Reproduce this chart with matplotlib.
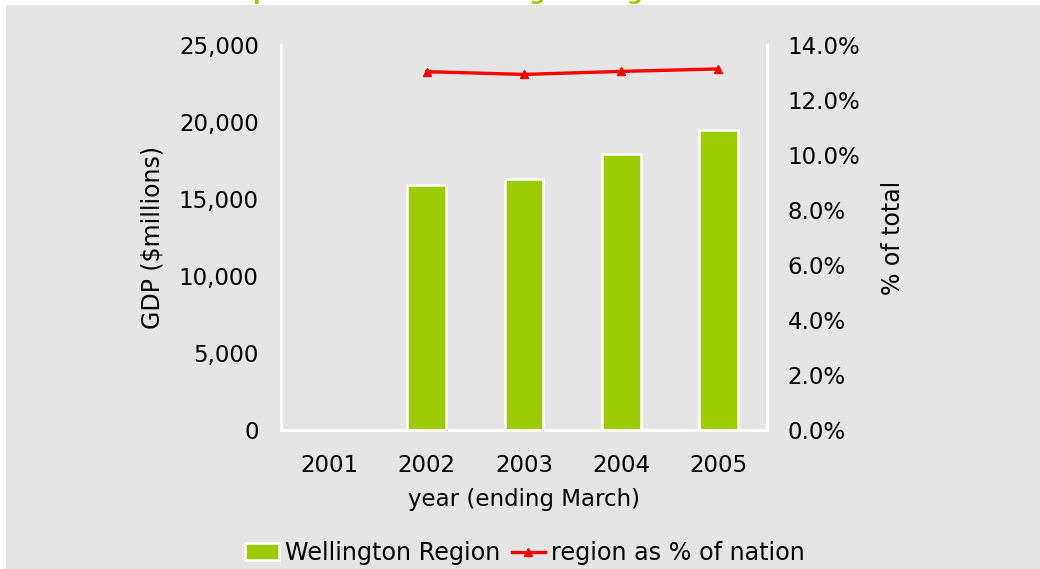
import matplotlib.pyplot as plt
from matplotlib.patches import Rectangle
from matplotlib.lines import Line2D
import numpy as np

# datos
years = ["2001", "2002", "2003", "2004", "2005"]
gdp = [np.nan, 15900, 16300, 17900, 19500]          # $ millions
pct = [np.nan, 13.03, 12.93, 13.04, 13.13]          # % of nation

green = "#9CCC00"
red = "#FF0000"
gray = "#E5E5E5"

plt.rcParams['font.family'] = ['DejaVu Sans']

fig = plt.figure(figsize=(10.4, 5.69), dpi=100)
fig.patch.set_facecolor("white")
# fondo gris
bg = Rectangle((6/1040, 0), 1, (569-5)/569, transform=fig.transFigure,
               facecolor=gray, edgecolor="none", zorder=-10)
fig.add_artist(bg)

# titulo (queda casi fuera del recuadro, tapado por el fondo)
fig.text(0.05, 1.0, "Gross domestic product for the Wellington Region",
         color=green, fontsize=16, fontweight="bold", va="baseline", ha="left",
         zorder=-20)

ax = fig.add_axes([281/1040, 139/569, 486/1040, 385/569])
ax.set_facecolor("none")
x = np.arange(len(years))
ax.bar(x, gdp, width=0.4, color=green, edgecolor="white", linewidth=1.8,
       label="Wellington Region", zorder=2)
ax.set_xlim(-0.5, 4.5)
ax.set_ylim(0, 25000)
ax.set_yticks(np.arange(0, 25001, 5000))
ax.set_yticklabels([f"{v:,}" for v in range(0, 25001, 5000)])
ax.set_xticks(x)
ax.set_xticklabels(years)
ax.tick_params(length=0, labelsize=16.5)
ax.tick_params(axis="y", pad=16)
ax.tick_params(axis="x", pad=17)
ax.set_xlabel("year (ending March)", fontsize=16.5, labelpad=8)
ax.set_ylabel("GDP ($millions)", fontsize=17, labelpad=10)
for s in ["left", "right", "bottom"]:
    ax.spines[s].set_color("white")
    ax.spines[s].set_linewidth(2.2)
ax.spines["top"].set_visible(False)

ax2 = ax.twinx()
ax2.plot(x, pct, color=red, linewidth=2.4, marker="^", markersize=6,
         label="region as % of nation", zorder=3)
ax2.set_ylim(0, 14)
ax2.set_yticks(np.arange(0, 14.1, 2))
ax2.set_yticklabels([f"{v:.1f}%" for v in np.arange(0, 14.1, 2)])
ax2.tick_params(length=0, labelsize=16.5, pad=15)
ax2.set_ylabel("% of total", fontsize=17, labelpad=15)
for s in ["left", "right", "bottom"]:
    ax2.spines[s].set_color("white")
    ax2.spines[s].set_linewidth(2.2)
ax2.spines["top"].set_visible(False)

handles = [Rectangle((0, 0), 1, 1, facecolor=green, edgecolor="white", linewidth=1.8),
           Line2D([0], [0], color=red, linewidth=2.4, marker="^", markersize=6)]
fig.legend(handles, ["Wellington Region", "region as % of nation"],
           loc="center", bbox_to_anchor=(525/1040, 1 - 553/569), ncol=2,
           frameon=False, fontsize=17.2, handlelength=1.4, handletextpad=0.25,
           columnspacing=0.5)

fig.savefig("out.png", dpi=100)
